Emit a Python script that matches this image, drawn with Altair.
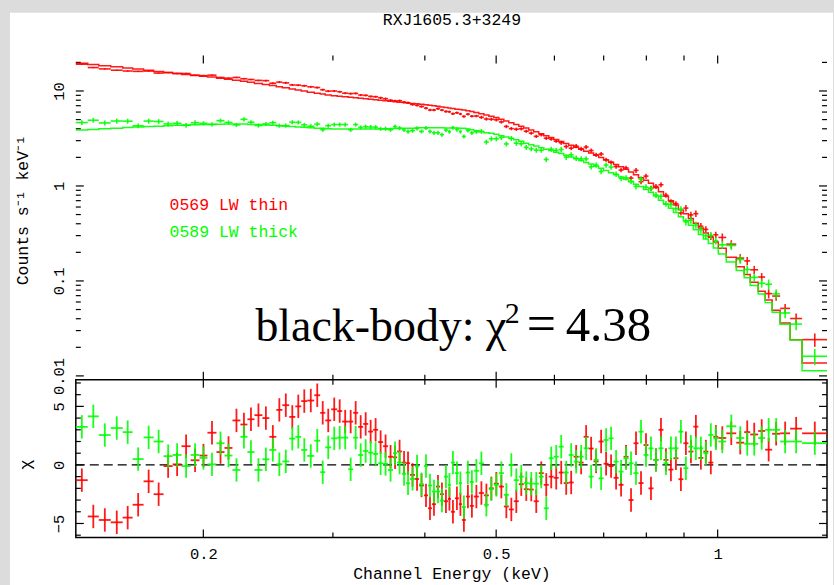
import altair as alt
import pandas as pd

TITLE = "RXJ1605.3+3249"
LABEL_RED = "0569 LW thin"
LABEL_GREEN = "0589 LW thick"
FIT_MAIN = "black-body: \u03c7"
FIT_SUP = "2"
FIT_EQ = "="
FIT_VAL = "4.38"
Y_TITLE = "Counts s\u207b\u00b9 keV\u207b\u00b9"
CHI_TITLE = "\u03c7"
X_TITLE = "Channel Energy (keV)"

# channel (bin) edges in keV, shared by both spectra
edges = [
    0.1342, 0.1393, 0.1442, 0.1497, 0.1554, 0.1603, 0.1659, 0.1712, 0.1766, 0.1817,
    0.1868, 0.1922, 0.1976, 0.2026, 0.2084, 0.2137, 0.2191, 0.2246, 0.2296, 0.2347,
    0.2406, 0.2459, 0.2513, 0.2561, 0.2617, 0.2667, 0.2717, 0.2769, 0.2830, 0.2883,
    0.2929, 0.2984, 0.3041, 0.3088, 0.3147, 0.3196, 0.3247, 0.3298, 0.3350, 0.3402,
    0.3456, 0.3510, 0.3565, 0.3621, 0.3667, 0.3725, 0.3771, 0.3819, 0.3879, 0.3928,
    0.3989, 0.4040, 0.4090, 0.4142, 0.4194, 0.4246, 0.4300, 0.4340, 0.4395, 0.4450,
    0.4492, 0.4548, 0.4606, 0.4663, 0.4737, 0.4812, 0.4887, 0.4964, 0.5042, 0.5122,
    0.5202, 0.5284, 0.5367, 0.5451, 0.5537, 0.5624, 0.5713, 0.5803, 0.5894, 0.5987,
    0.6081, 0.6177, 0.6274, 0.6372, 0.6473, 0.6574, 0.6678, 0.6783, 0.6890, 0.6998,
    0.7108, 0.7220, 0.7334, 0.7449, 0.7566, 0.7685, 0.7806, 0.7929, 0.8053, 0.8180,
    0.8309, 0.8440, 0.8572, 0.8707, 0.8844, 0.8983, 0.9125, 0.9268, 0.9414, 0.9562,
    0.9712, 0.9865, 1.0020, 1.0272, 1.0598, 1.0866, 1.1072, 1.1352, 1.1602, 1.1858,
    1.2159, 1.2544, 1.3023, 1.4080,
]

# 0569 LW thin (red)
red_rate = [
    19.14, 17.64, 17.08, 16.55, 16.23, 16.09, 16.21, 15.44, 15.62, 15.28,
    15.28, 14.68, 14.51, 14.69, 13.87, 13.65, 13.89, 13.46, 13.21, 12.92,
    12.85, 12.08, 12.40, 12.18, 11.58, 11.52, 11.34, 11.06, 10.87, 10.31,
    9.96, 9.99, 9.81, 9.49, 9.38, 9.43, 9.07, 9.00, 8.77, 8.70,
    8.47, 8.29, 7.98, 7.87, 7.89, 7.61, 7.52, 7.21, 7.06, 6.86,
    6.60, 6.30, 6.30, 6.52, 6.29, 6.08, 6.04, 5.76, 5.89, 5.73,
    5.40, 5.70, 5.43, 5.45, 5.28, 5.07, 5.04, 4.97, 4.72, 4.23,
    4.02, 3.96, 4.00, 3.77, 3.60, 3.33, 3.46, 3.18, 3.12, 2.96,
    2.85, 2.60, 2.50, 2.63, 2.46, 2.57, 2.36, 2.13, 2.17, 1.89,
    1.77, 1.60, 1.47, 1.55, 1.21, 1.46, 1.11, 1.27, 0.94, 0.99,
    1.03, 0.80, 0.683, 0.651, 0.519, 0.585, 0.496, 0.511, 0.377, 0.349,
    0.293, 0.306, 0.287, 0.244, 0.174, 0.1625, 0.131, 0.110, 0.0735, 0.0693,
    0.0514, 0.0402, 0.0241,
]
red_relerr = [
    1.6, 1.6, 1.6, 1.6, 1.6, 1.6, 1.6, 1.6, 1.6, 1.6,
    1.6, 1.6, 1.8, 1.8, 1.8, 1.8, 1.8, 1.8, 1.8, 1.8,
    2.5, 2.5, 2.5, 2.5, 2.5, 2.5, 2.5, 2.5, 2.5, 2.5,
    2.5, 2.5, 2.5, 2.5, 2.5, 2.5, 2.5, 2.5, 2.5, 2.5,
    3, 3, 3, 3, 3, 3, 3, 3, 3, 3,
    3, 3, 3, 3, 3, 3, 3, 3, 3, 3,
    3, 3, 3, 3, 4, 4, 4, 4, 4, 4,
    4, 4, 4, 4, 4, 4, 4, 4, 4, 4,
    5, 5, 5, 5, 5, 5, 5, 5, 5, 5,
    5, 5, 5, 5, 5, 6, 6, 6, 6, 6,
    6, 6, 6, 6, 6, 8, 8, 8, 8, 8,
    8, 8, 10, 10, 10, 10, 10, 10, 11, 11,
    11, 13, 16,
]
red_model = [
    19.55, 18.98, 18.47, 17.96, 17.49, 17.02, 16.58, 16.08, 15.64, 15.27,
    14.9, 14.59, 14.3, 14.0, 13.6, 13.3, 13.0, 12.67, 12.34, 12.0,
    11.68, 11.4, 11.1, 10.8, 10.5, 10.24, 9.98, 9.72, 9.46, 9.28,
    9.1, 8.93, 8.8, 8.69, 8.59, 8.49, 8.39, 8.28, 8.19, 8.09,
    8.0, 7.91, 7.82, 7.72, 7.63, 7.56, 7.49, 7.4, 7.32, 7.24,
    7.16, 7.09, 7.0, 6.9, 6.8, 6.7, 6.62, 6.54, 6.44, 6.37,
    6.29, 6.2, 6.07, 5.93, 5.76, 5.58, 5.42, 5.26, 5.05, 4.83,
    4.64, 4.44, 4.25, 4.07, 3.89, 3.73, 3.55, 3.38, 3.23, 3.08,
    2.94, 2.8, 2.68, 2.55, 2.44, 2.32, 2.22, 2.1, 1.99, 1.88,
    1.78, 1.68, 1.59, 1.5, 1.4, 1.31, 1.22, 1.15, 1.07, 0.965,
    0.87, 0.78, 0.70, 0.63, 0.56, 0.51, 0.455, 0.405, 0.36, 0.32,
    0.288, 0.257, 0.221, 0.178, 0.141, 0.117, 0.097, 0.078, 0.063, 0.049,
    0.0361, 0.024, 0.0137,
]
red_chi = [
    -1.3, -4.4, -4.7, -4.9, -4.5, -3.4, -1.4, -2.5, -0.1, 0.05,
    1.6, 0.4, 0.8, 2.75, 1.1, 1.45, 3.8, 3.45, 3.9, 4.25,
    4.0, 2.4, 4.7, 5.1, 4.1, 5.0, 5.45, 5.5, 5.95, 4.45,
    3.8, 4.75, 4.6, 3.7, 3.7, 4.45, 3.25, 3.5, 2.85, 3.0,
    1.95, 1.6, 0.7, 0.65, 1.15, 0.2, 0.15, -0.85, -1.2, -1.75,
    -2.6, -3.7, -3.35, -1.85, -2.5, -3.1, -2.9, -4.0, -2.85, -3.35,
    -4.7, -2.7, -3.5, -2.7, -2.4, -2.6, -2.0, -1.6, -1.85, -3.55,
    -3.8, -3.1, -1.65, -2.07, -2.1, -3.1, -0.7, -1.7, -1.0, -1.1,
    -0.65, -1.55, -1.5, 0.7, 0.2, 2.4, 1.4, 0.3, 2.0, 0.1,
    -0.1, -1.1, -1.7, 0.7, -3.0, 1.85, -1.55, 1.7, -2.0, 0.43,
    3.0, 0.43, -0.4, 0.57, -1.22, 1.85, 1.14, 3.27, 0.6, 1.14,
    0.2, 2.4, 2.3, 2.7, 1.9, 2.8, 2.6, 2.9, 1.3, 2.66,
    2.7, 3.1, 2.7,
]

# 0589 LW thick (green)
green_rate = [
    4.65, 4.92, 4.61, 4.83, 4.81, 4.30, 4.82, 4.77, 4.50, 4.57,
    4.35, 4.63, 4.57, 4.46, 4.87, 4.66, 4.39, 5.03, 4.69, 4.33,
    4.50, 4.64, 4.32, 4.32, 4.69, 4.67, 4.40, 4.26, 4.48, 3.91,
    4.31, 4.43, 4.43, 4.43, 3.90, 4.43, 4.14, 4.21, 4.18, 4.16,
    4.00, 4.01, 3.91, 4.22, 4.07, 3.89, 3.74, 3.82, 4.04, 3.75,
    4.08, 3.75, 3.63, 3.63, 3.47, 3.88, 3.73, 4.11, 3.93, 3.74,
    3.32, 3.84, 3.62, 3.72, 3.76, 2.90, 3.14, 3.14, 3.24, 2.77,
    3.17, 2.82, 2.78, 2.55, 2.46, 2.38, 2.38, 1.90, 2.44, 2.37,
    2.42, 2.01, 2.13, 1.96, 1.93, 1.93, 1.59, 1.66, 1.42, 1.66,
    1.58, 1.33, 1.20, 1.22, 1.12, 0.989, 1.18, 0.972, 0.946, 0.805,
    0.779, 0.648, 0.639, 0.576, 0.570, 0.419, 0.436, 0.387, 0.346, 0.299,
    0.302, 0.265, 0.240, 0.236, 0.168, 0.132, 0.109, 0.0945, 0.0923, 0.0731,
    0.046, 0.0351, 0.0161,
]
green_relerr = [
    6, 6, 6, 6, 6, 6, 6, 6, 6, 6,
    6, 6, 5, 5, 5, 5, 5, 5, 5, 5,
    5, 5, 5, 5, 5, 5, 5, 5, 5, 5,
    5, 5, 5, 5, 5, 5, 5, 5, 5, 5,
    5, 5, 5, 5, 5, 5, 5, 5, 5, 5,
    5, 5, 5, 5, 5, 5, 5, 5, 5, 5,
    5, 5, 5, 5, 6, 6, 6, 6, 6, 6,
    6, 6, 6, 6, 6, 6, 6, 6, 6, 6,
    6.5, 6.5, 6.5, 6.5, 6.5, 6.5, 6.5, 6.5, 6.5, 6.5,
    6.5, 6.5, 6.5, 6.5, 6.5, 7, 7, 7, 7, 7,
    7, 7, 7, 7, 7, 8.5, 8.5, 8.5, 8.5, 8.5,
    8.5, 8.5, 10, 10, 10, 10, 10, 10, 12, 12,
    12, 14, 19,
]
green_model = [
    3.89, 3.94, 4.0, 4.06, 4.12, 4.17, 4.22, 4.26, 4.31, 4.35,
    4.38, 4.41, 4.44, 4.45, 4.46, 4.48, 4.49, 4.49, 4.45, 4.43,
    4.39, 4.36, 4.31, 4.26, 4.22, 4.17, 4.14, 4.1, 4.06, 4.04,
    4.01, 3.98, 3.97, 3.97, 3.97, 3.97, 3.97, 3.97, 3.97, 3.97,
    3.97, 3.99, 4.0, 4.02, 4.03, 4.05, 4.06, 4.06, 4.07, 4.09,
    4.1, 4.11, 4.1, 4.1, 4.09, 4.08, 4.08, 4.07, 4.07, 4.06,
    4.05, 3.97, 3.9, 3.82, 3.73, 3.64, 3.58, 3.5, 3.38, 3.27,
    3.17, 3.06, 2.96, 2.81, 2.72, 2.63, 2.53, 2.44, 2.36, 2.27,
    2.2, 2.1, 2.02, 1.93, 1.85, 1.77, 1.70, 1.615, 1.535, 1.455,
    1.38, 1.31, 1.245, 1.18, 1.11, 1.04, 0.985, 0.917, 0.861, 0.782,
    0.709, 0.642, 0.581, 0.524, 0.475, 0.429, 0.385, 0.345, 0.309, 0.276,
    0.248, 0.222, 0.192, 0.158, 0.129, 0.108, 0.0896, 0.0728, 0.0591, 0.0468,
    0.035, 0.0239, 0.0113,
]
green_chi = [
    3.25, 4.15, 2.55, 3.15, 2.8, 0.5, 2.35, 2.0, 0.75, 0.85,
    -0.1, 0.85, 0.6, 0.05, 1.85, 0.8, -0.43, 2.4, 1.1, -0.43,
    0.48, 1.28, 0.06, 0.3, 2.25, 2.4, 1.28, 0.77, 2.07, -0.62,
    1.5, 2.27, 2.33, 2.33, -0.37, 2.33, 0.85, 1.19, 1.05, 0.94,
    0.14, 0.09, -0.43, 1.0, 0.2, -0.77, -1.56, -1.19, -0.14, -1.65,
    -0.09, -1.76, -2.27, -2.27, -3.04, -1.0, -1.7, 0.2, -0.7, -1.56,
    -3.6, -0.65, -1.45, -0.5, 0.14, -3.4, -2.07, -1.7, -0.7, -2.55,
    0.0, -1.3, -1.0, -1.55, -1.6, -1.6, -1.0, -3.7, 0.57, 0.7,
    1.56, -0.65, 0.85, 0.28, 0.7, 1.42, -1.0, 0.43, -1.14, 2.13,
    2.27, 0.28, -0.57, 0.57, 0.14, -0.7, 2.84, 0.85, 1.42, 0.43,
    1.42, 0.14, 1.42, 1.42, 2.84, -0.28, 1.56, 1.42, 1.42, 1.0,
    2.56, 2.27, 2.0, 3.3, 2.3, 1.8, 1.8, 2.3, 3.0, 3.0,
    2.0, 2.0, 1.86,
]

x_major = [0.2, 0.5, 1.0]
x_minor = [0.3, 0.4, 0.6, 0.7, 0.8, 0.9]
y_major = [0.01, 0.1, 1, 10]
y_minor = [0.02, 0.03, 0.04, 0.05, 0.06, 0.07, 0.08, 0.09,
           0.2, 0.3, 0.4, 0.5, 0.6, 0.7, 0.8, 0.9,
           2, 3, 4, 5, 6, 7, 8, 9, 20]
chi_major = [-5, 0, 5]
chi_minor = [-6, -4, -3, -2, -1, 1, 2, 3, 4, 6, 7]
x_domain = [0.1342, 1.408]
y_domain = [0.0091, 23.6]
chi_domain = [-6.19, 7.27]

RED = "#ff0000"
GREEN = "#00ff00"
MONO = "Liberation Mono"
SERIF = "Liberation Serif"
W, H1, H2 = 753, 325, 158
MAJ, MIN = 8, 5

lo = edges[:-1]
hi = edges[1:]
mid = [(a + b) / 2 for a, b in zip(lo, hi)]


def spectrum(rate, relerr, model, chi):
    d = pd.DataFrame({"lo": lo, "hi": hi, "mid": mid, "rate": rate,
                      "relerr": relerr, "model": model, "chi": chi})
    d["rlo"] = d["rate"] * (1 - d["relerr"] / 100)
    d["rhi"] = d["rate"] * (1 + d["relerr"] / 100)
    d["clo"] = d["chi"] - 1
    d["chh"] = d["chi"] + 1
    return d


def steps(model):
    return pd.DataFrame({"e": list(lo) + [hi[-1]], "m": list(model) + [model[-1]]})


red = spectrum(red_rate, red_relerr, red_model, red_chi)
green = spectrum(green_rate, green_relerr, green_model, green_chi)

xs = alt.Scale(type="log", domain=x_domain, nice=False)
yt = alt.Scale(type="log", domain=y_domain, nice=False)
yb = alt.Scale(type="linear", domain=chi_domain, nice=False, zero=False)


def yaxis(values):
    return alt.Axis(values=values, ticks=False, domain=False, grid=False, title=None,
                    labelAngle=270, labelAlign="center", labelBaseline="alphabetic",
                    labelPadding=12, labelFont=MONO, labelFontSize=15.5, labelColor="black",
                    format="~g", zindex=2, labelOverlap=False)


# one axis definition per channel and panel, shared by every layer of that panel
AX_TOP_X = None
AX_TOP_Y = yaxis(y_major)
AX_BOT_X = alt.Axis(values=x_major, ticks=False, domain=False, grid=False, title=None,
                    labelFont=MONO, labelFontSize=15.5, labelColor="black", labelPadding=9,
                    labelFlush=False, format="~g", zindex=2, labelOverlap=False)
AX_BOT_Y = yaxis(chi_major)


def one(val):
    return pd.DataFrame({"t": [val]})


def text(val, x, y, size, font=MONO, color="black", angle=0, align="center", baseline="middle"):
    return alt.Chart(one(val)).mark_text(
        font=font, fontSize=size, color=color, angle=angle, align=align, baseline=baseline
    ).encode(text="t:N", x=alt.value(x), y=alt.value(y))


def xticks(H, xax):
    out = []
    for vals, L in ((x_major, MAJ), (x_minor, MIN)):
        d = pd.DataFrame({"v": vals})
        out.append(alt.Chart(d).mark_rule(color="black", strokeWidth=1.2).encode(
            x=alt.X("v:Q", scale=xs, axis=xax), y=alt.value(0), y2=alt.value(L)))
        out.append(alt.Chart(d).mark_rule(color="black", strokeWidth=1.2).encode(
            x=alt.X("v:Q", scale=xs, axis=xax), y=alt.value(H - L), y2=alt.value(H)))
    return out


def yticks(major, minor, scale, yax):
    out = []
    for vals, L in ((major, MAJ), (minor, MIN)):
        d = pd.DataFrame({"v": vals})
        out.append(alt.Chart(d).mark_rule(color="black", strokeWidth=1.2).encode(
            y=alt.Y("v:Q", scale=scale, axis=yax), x=alt.value(0), x2=alt.value(L)))
        out.append(alt.Chart(d).mark_rule(color="black", strokeWidth=1.2).encode(
            y=alt.Y("v:Q", scale=scale, axis=yax), x=alt.value(W - L), x2=alt.value(W)))
    return out


def cross(d, color, yfield, ylo, yhi, yscale, xax, yax, sw):
    b = alt.Chart(d)
    h = b.mark_rule(color=color, strokeWidth=sw, opacity=0.9).encode(
        x=alt.X("lo:Q", scale=xs, axis=xax), x2="hi:Q",
        y=alt.Y(yfield + ":Q", scale=yscale, axis=yax))
    v = b.mark_rule(color=color, strokeWidth=sw, opacity=0.9).encode(
        x=alt.X("mid:Q", scale=xs, axis=xax),
        y=alt.Y(ylo + ":Q", scale=yscale, axis=yax), y2=yhi + ":Q")
    return [h, v]


def model_line(model, color):
    return alt.Chart(steps(model)).mark_line(
        color=color, strokeWidth=1.5, interpolate="step-after", opacity=0.9
    ).encode(x=alt.X("e:Q", scale=xs, axis=AX_TOP_X), y=alt.Y("m:Q", scale=yt, axis=AX_TOP_Y))


paper = alt.Chart(one("")).mark_rect(color="white").encode(
    x=alt.value(-66), x2=alt.value(759), y=alt.value(-43), y2=alt.value(532))

top_layers = [paper] + xticks(H1, AX_TOP_X) + yticks(y_major, y_minor, yt, AX_TOP_Y)
top_layers += cross(red, RED, "rate", "rlo", "rhi", yt, AX_TOP_X, AX_TOP_Y, 1.6) + [model_line(red_model, RED)]
top_layers += cross(green, GREEN, "rate", "rlo", "rhi", yt, AX_TOP_X, AX_TOP_Y, 1.6) + [model_line(green_model, GREEN)]
top_layers += [
    text(TITLE, 377, -31, 16.5, baseline="alphabetic"),
    text(Y_TITLE, -53, 155, 16.5, angle=270),
    text(LABEL_RED, 94, 150, 16.5, color=RED, align="left"),
    text(LABEL_GREEN, 94, 177, 16.5, color=GREEN, align="left"),
    text(FIT_MAIN, 180, 286, 46, font=SERIF, align="left", baseline="alphabetic"),
    text(FIT_SUP, 430, 268, 30, font=SERIF, align="left", baseline="alphabetic"),
    text(FIT_EQ, 452, 286, 52, font=SERIF, align="left", baseline="alphabetic"),
    text(FIT_VAL, 491, 286, 49, font=SERIF, align="left", baseline="alphabetic"),
]
top = alt.layer(*top_layers).properties(width=W, height=H1)

zero = alt.Chart(pd.DataFrame({"z": [0]})).mark_rule(
    color="black", strokeWidth=1.3, strokeDash=[9, 5]
).encode(y=alt.Y("z:Q", scale=yb, axis=AX_BOT_Y), x=alt.value(0), x2=alt.value(W))

bot_layers = xticks(H2, AX_BOT_X) + yticks(chi_major, chi_minor, yb, AX_BOT_Y) + [zero]
bot_layers += cross(red, RED, "chi", "clo", "chh", yb, AX_BOT_X, AX_BOT_Y, 1.8)
bot_layers += cross(green, GREEN, "chi", "clo", "chh", yb, AX_BOT_X, AX_BOT_Y, 1.8)
bot_layers += [
    text(CHI_TITLE, -50, 85, 17, angle=270),
    text(X_TITLE, 377, 195, 16.5),
]
bot = alt.layer(*bot_layers).properties(width=W, height=H2)

chart = alt.vconcat(top, bot, spacing=0, bounds="flush").properties(
    padding={"left": 9, "top": 10, "right": 0, "bottom": 0}
).configure(background="#dcdcdc").configure_view(stroke="black", strokeWidth=1.5)

chart.save("out.html", embed_options={"renderer": "svg", "actions": False})
